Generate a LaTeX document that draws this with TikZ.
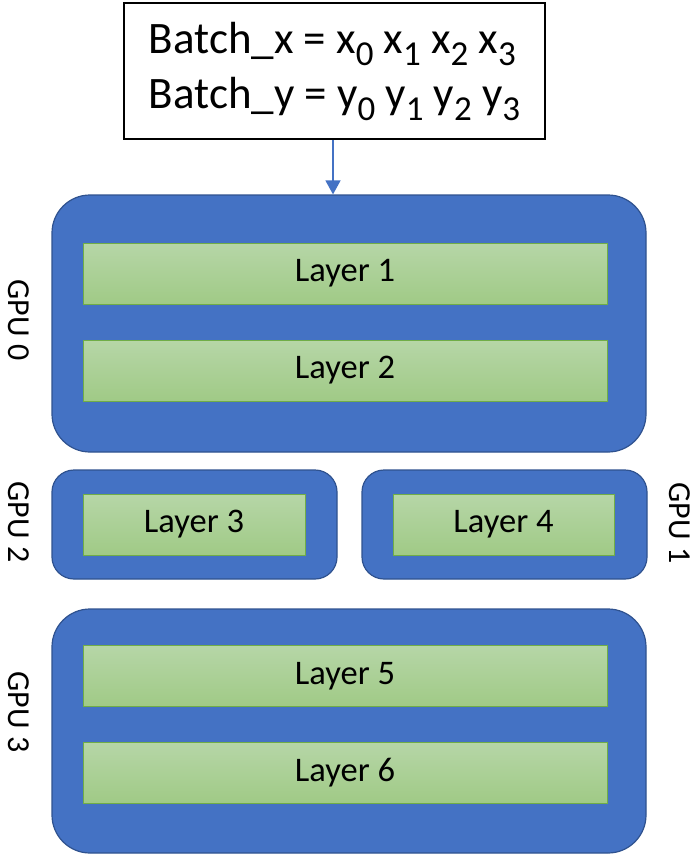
\documentclass[tikz,border=0pt]{standalone}
\usepackage{fontspec}
\setmainfont{Carlito}
\usetikzlibrary{arrows.meta}
\definecolor{gpublue}{RGB}{68,114,196}
\definecolor{gpuedge}{RGB}{47,82,143}
\definecolor{layertop}{RGB}{182,214,167}
\definecolor{layerbot}{RGB}{160,202,134}
\definecolor{layeredge}{RGB}{112,173,71}
\newcommand{\lowidx}[1]{\raisebox{-12pt}{\fontsize{35}{35}\selectfont #1}}
\tikzset{
    gpubox/.style = {draw = gpuedge, fill = gpublue, line width = 1.2pt, inner sep = 0pt},
    layerbox/.style = {draw = layeredge, line width = 1pt, top color = layertop, bottom color = layerbot,
        inner sep = 0pt, font = \fontsize{34.5}{40}\selectfont},
    gpulabel/.style = {rotate = -90, inner sep = 0pt, font = \fontsize{32}{36}\selectfont}
}
\begin{document}
\begin{tikzpicture}[x = 1pt, y = -1pt]
    \useasboundingbox (0, 0) rectangle (698, 856);
    % input batch
    \node[draw, line width = 2pt, minimum width = 421pt, minimum height = 136pt, align = left,
        font = \fontsize{45}{55}\selectfont] (batch) at (334.5, 71)
        {Batch\_x = x\lowidx{0} x\lowidx{1} x\lowidx{2} x\lowidx{3}\\
         Batch\_y = y\lowidx{0} y\lowidx{1} y\lowidx{2} y\lowidx{3}};
    % gpus
    \node[gpubox, rounded corners = 38pt, minimum width = 594pt, minimum height = 257pt] (gpu0) at (349, 323.5) {};
    \node[gpubox, rounded corners = 22pt, minimum width = 285pt, minimum height = 109pt] (gpu2) at (194.5, 524.5) {};
    \node[gpubox, rounded corners = 22pt, minimum width = 285pt, minimum height = 109pt] (gpu1) at (504.5, 524.5) {};
    \node[gpubox, rounded corners = 38pt, minimum width = 594pt, minimum height = 244pt] (gpu3) at (349, 731) {};
    % layers
    \foreach \i/\y in {1/273.5, 2/370.5, 5/676, 6/772.5}
        \node[layerbox, minimum width = 524pt, minimum height = 61pt] (layer\i) at (345, \y) {Layer \i};
    \node[layerbox, minimum width = 222pt, minimum height = 61pt] (layer3) at (194, 524.5) {Layer 3};
    \node[layerbox, minimum width = 221pt, minimum height = 61pt] (layer4) at (503.5, 524.5) {Layer 4};
    % labels
    \node[gpulabel] (lab0) at (19, 320) {GPU 0};
    \node[gpulabel] (lab2) at (19, 522) {GPU 2};
    \node[gpulabel] (lab1) at (680, 523) {GPU 1};
    \node[gpulabel] (lab3) at (19, 712) {GPU 3};
    \draw[gpublue, line width = 1.5pt, -{Triangle[length = 14pt, width = 15pt]}] ([xshift = -1.5pt]batch.south) -- ([xshift = -1.5pt]batch.south |- gpu0.north);
\end{tikzpicture}
\end{document}
